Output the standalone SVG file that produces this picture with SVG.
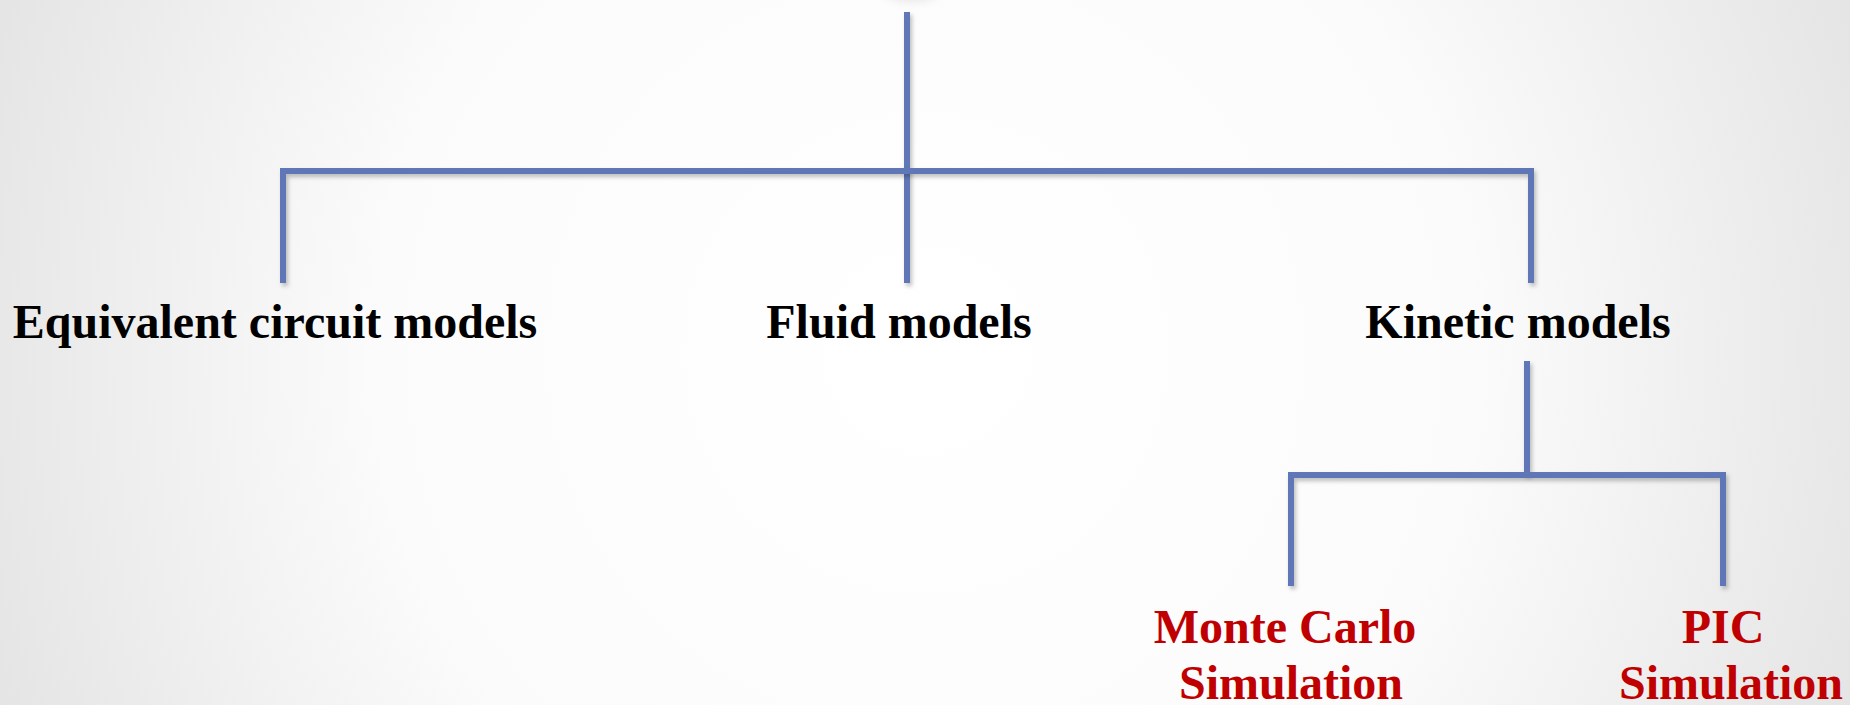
<svg xmlns="http://www.w3.org/2000/svg" width="1850" height="705" viewBox="0 0 1850 705">
<defs>
<radialGradient id="bg" cx="925" cy="352" r="1000" gradientUnits="userSpaceOnUse">
<stop offset="0" stop-color="#ffffff"/>
<stop offset="0.55" stop-color="#fbfbfb"/>
<stop offset="1" stop-color="#e4e4e4"/>
</radialGradient>
<filter id="sh" filterUnits="userSpaceOnUse" x="0" y="0" width="1850" height="705">
<feDropShadow dx="2" dy="3" stdDeviation="2" flood-color="#000" flood-opacity="0.25"/>
</filter>
<filter id="blur" filterUnits="userSpaceOnUse" x="800" y="-60" width="250" height="100"><feGaussianBlur stdDeviation="4"/></filter>
<style>
.ln{fill:none;stroke:#5f77b6;stroke-width:6;stroke-linejoin:miter;stroke-linecap:butt;filter:url(#sh)}
.t{font-family:"Liberation Serif","Times New Roman",serif;font-weight:bold;font-size:48px;text-anchor:middle}
.k{fill:#000}
.r{fill:#c00000}
</style>
</defs>
<rect width="1850" height="705" fill="url(#bg)"/>
<ellipse cx="912" cy="-12" rx="30" ry="14" fill="#999" opacity="0.2" filter="url(#blur)"/>
<g id="connectors">
<path class="ln" d="M907,12 V283"/>
<path class="ln" d="M283,283 V171 H1531 V283"/>
<path class="ln" d="M1527,361 V475"/>
<path class="ln" d="M1291,586 V475 H1723 V586"/>
</g>
<g id="equivalent"><text class="t k" x="275" y="338">Equivalent circuit models</text></g>
<g id="fluid"><text class="t k" x="899" y="338">Fluid models</text></g>
<g id="kinetic"><text class="t k" x="1518" y="338">Kinetic models</text></g>
<g id="montecarlo"><text class="t r"><tspan x="1285" y="643">Monte Carlo</tspan><tspan x="1291" y="699">Simulation</tspan></text></g>
<g id="pic"><text class="t r"><tspan x="1723" y="643">PIC</tspan><tspan x="1731" y="699">Simulation</tspan></text></g>
</svg>
